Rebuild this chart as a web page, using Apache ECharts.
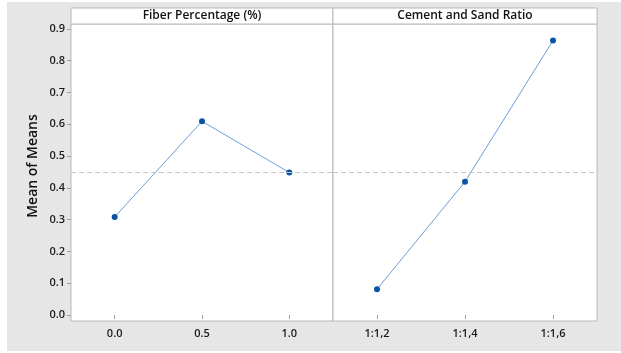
<!DOCTYPE html>
<html>
<head>
<meta charset="utf-8">
<script src="https://cdn.jsdelivr.net/npm/echarts@6/dist/echarts.min.js"></script>
<style>
html,body{margin:0;padding:0;background:#fff;}
#c{width:621px;height:353px;}
</style>
</head>
<body>
<div id="c"></div>
<script>
var fiberCategories = ['0.0', '0.5', '1.0'];
var fiberMeans = [0.308, 0.609, 0.448];
var ratioCategories = ['1:1,2', '1:1,4', '1:1,6'];
var ratioMeans = [0.081, 0.419, 0.863];
var panelTitles = ['Fiber Percentage (%)', 'Cement and Sand Ratio'];
var yTicks = [0.0, 0.1, 0.2, 0.3, 0.4, 0.5, 0.6, 0.7, 0.8, 0.9];
var yAxisTitle = 'Mean of Means';

var all = fiberMeans.concat(ratioMeans);
var grandMean = all.reduce(function(a, b){ return a + b; }, 0) / all.length;

var FONT = '"Open Sans", "Noto Sans", sans-serif';
var chart = echarts.init(document.getElementById('c'), null, {renderer: 'canvas'});

function xAxisCfg(idx, cats) {
  return {
    gridIndex: idx, type: 'category', data: cats, boundaryGap: true,
    axisLine: {show: false},
    axisTick: {show: true, alignWithLabel: true, length: 4, lineStyle: {color: '#a0a0a0'}},
    axisLabel: {color: '#1a1a1a', fontSize: 11, fontFamily: FONT, fontWeight: 600, margin: 7},
    splitLine: {show: false}
  };
}
function yAxisCfg(idx, showLabels) {
  return {
    gridIndex: idx, type: 'value', min: -0.019, max: 0.915, interval: 0.1,
    axisLine: {show: false},
    axisTick: {show: showLabels, length: 4, lineStyle: {color: '#a0a0a0'},
      customValues: yTicks},
    axisLabel: {show: showLabels, color: '#1a1a1a', fontSize: 11, fontFamily: FONT, fontWeight: 600, margin: 6,
      customValues: yTicks,
      formatter: function(v){ return v.toFixed(1); }},
    splitLine: {show: false}
  };
}
function seriesCfg(idx, data) {
  return {
    type: 'line', xAxisIndex: idx, yAxisIndex: idx, data: data,
    symbol: 'circle', symbolSize: 6, showSymbol: true,
    itemStyle: {color: '#0a52a3'},
    lineStyle: {color: '#6a9fd9', width: 1},
    silent: true, animation: false,
    markLine: {
      silent: true, symbol: 'none', label: {show: false},
      lineStyle: {color: '#c4c4c4', type: [5, 3], width: 1},
      data: [{yAxis: grandMean}]
    }
  };
}

chart.setOption({
  animation: false,
  backgroundColor: '#ffffff',
  grid: [
    {left: 71, top: 24, width: 262, height: 297, show: true, backgroundColor: '#fff', borderColor: '#b8b8b8', borderWidth: 1},
    {left: 333, top: 24, width: 264, height: 297, show: true, backgroundColor: '#fff', borderColor: '#b8b8b8', borderWidth: 1}
  ],
  xAxis: [xAxisCfg(0, fiberCategories), xAxisCfg(1, ratioCategories)],
  yAxis: [yAxisCfg(0, true), yAxisCfg(1, false)],
  series: [seriesCfg(0, fiberMeans), seriesCfg(1, ratioMeans)],
  graphic: [
    {type: 'rect', z: -10, silent: true, shape: {x: 7, y: 2, width: 614, height: 349}, style: {fill: '#e6e6e6'}},
    {type: 'rect', z: 10, silent: true, shape: {x: 71, y: 8, width: 262, height: 16}, style: {fill: '#fff', stroke: '#b8b8b8', lineWidth: 1}},
    {type: 'rect', z: 10, silent: true, shape: {x: 333, y: 8, width: 264, height: 16}, style: {fill: '#fff', stroke: '#b8b8b8', lineWidth: 1}},
    {type: 'text', z: 11, silent: true, style: {text: panelTitles[0], x: 202, y: 16, textAlign: 'center', textVerticalAlign: 'middle', fill: '#111', font: '600 12px ' + FONT}},
    {type: 'text', z: 11, silent: true, style: {text: panelTitles[1], x: 465, y: 16, textAlign: 'center', textVerticalAlign: 'middle', fill: '#111', font: '600 12px ' + FONT}},
    {type: 'text', z: 11, silent: true, rotation: Math.PI / 2, x: 33, y: 166, style: {text: yAxisTitle, x: 0, y: 0, textAlign: 'center', textVerticalAlign: 'middle', fill: '#111', font: '600 14px ' + FONT}}
  ]
});
</script>
</body>
</html>
